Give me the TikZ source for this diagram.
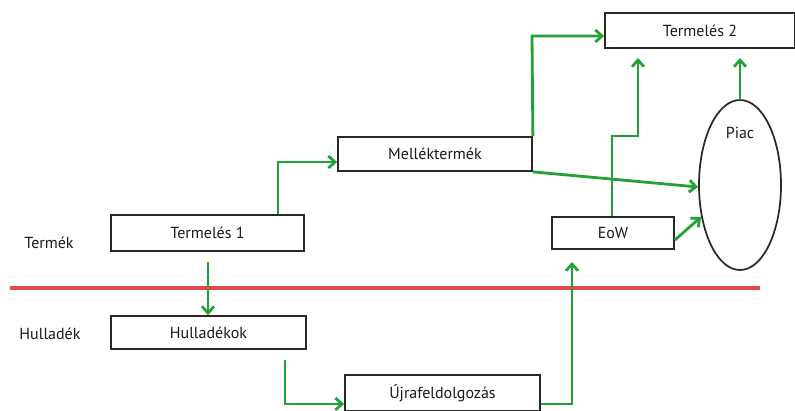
\documentclass[tikz,border=0pt]{standalone}
\usepackage{fontspec}
\setmainfont{PT Sans}
\usetikzlibrary{arrows.meta}
\definecolor{flowgreen}{RGB}{34,162,54}
\definecolor{divred}{RGB}{222,72,72}
\definecolor{boxgray}{RGB}{40,40,40}
\begin{document}
\begin{tikzpicture}[x=0.75pt,y=-0.75pt,
  stepbox/.style={draw=boxgray,line width=1.3pt,rectangle,inner sep=0pt,text=black!90,font=\fontsize{12}{14}\selectfont},
  flow/.style={draw=flowgreen,line width=2.1pt,-{Straight Barb[length=5pt,width=9pt,line width=2.1pt]}},
  lbl/.style={text=black!90,font=\fontsize{12}{14}\selectfont}]
\useasboundingbox (0,0) rectangle (795,410);
% process boxes
\node[stepbox,minimum width=142.5pt,minimum height=26pt] (t2) at (700,30.5) {Termelés 2};
\node[stepbox,minimum width=145.5pt,minimum height=25.5pt] (mt) at (435,154) {Melléktermék};
\node[stepbox,minimum width=144.75pt,minimum height=27pt] (t1) at (207.5,233) {Termelés 1};
\node[stepbox,minimum width=91.5pt,minimum height=24pt] (eow) at (613,233) {EoW};
\node[stepbox,minimum width=146.25pt,minimum height=24.75pt] (hk) at (208.5,332.5) {Hulladékok};
\node[stepbox,minimum width=146.25pt,minimum height=27pt] (uj) at (442.5,393) {Újrafeldolgozás};
% market
\draw[draw=boxgray,line width=1.3pt] (740,185) ellipse [x radius=41,y radius=85];
\node[lbl] (piac) at (740,133) {Piac};
% side labels
\node[lbl] (termek) at (49,243) {Termék};
\node[lbl] (hullad) at (50,334) {Hulladék};
% divider between product and waste
\draw[divred,line width=2.5pt] (10,288) -- (760,288);
% end points on the market ellipse
\coordinate (piactop) at (740,100);
\coordinate (piacl1) at (698,187);
\coordinate (piacl2) at (701,217);
% connectors
\draw[flow] (t1.north -| 278,0) -- (278,162) -- (mt.west |- 0,162);
\draw[flow] (mt.north east) -- (532,36) -- (t2.west |- 0,36);
\draw[flow] (mt.south east) -- (piacl1);
\draw[flow] (eow.north -| 612,0) -- (612,136) -- (638,136) -- (638,58);
\draw[flow] (piactop) -- (740,58);
\draw[flow] (eow.east |- 0,240) -- (piacl2);
\draw[flow] (208,262) -- (hk.north -| 208,0);
\draw[flow] (285,360) -- (285,404) -- (uj.west |- 0,404);
\draw[flow] (uj.east |- 0,404) -- (572,404) -- (572,262);
\end{tikzpicture}
\end{document}
